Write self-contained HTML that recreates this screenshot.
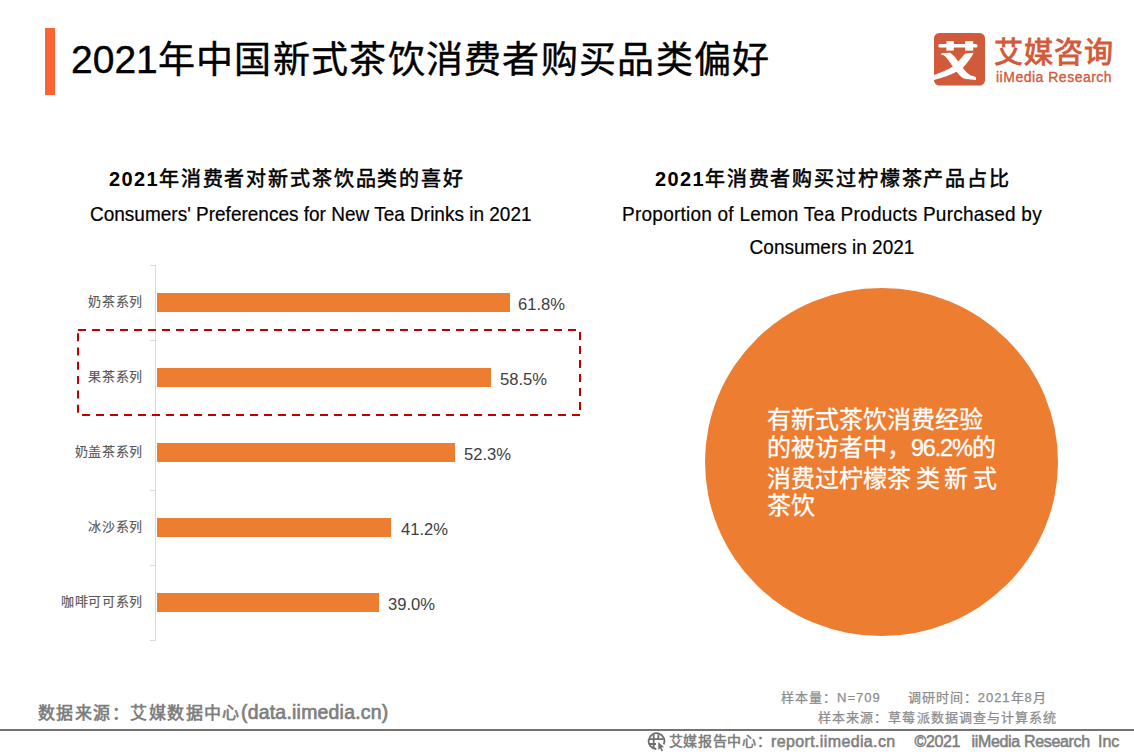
<!DOCTYPE html>
<html lang="zh-CN"><head><meta charset="utf-8">
<style>
html,body{margin:0;padding:0;background:#fff;}
body{width:1134px;height:756px;position:relative;overflow:hidden;font-family:"Liberation Sans",sans-serif;color:#000;}
.a{position:absolute;white-space:nowrap;}
#bar{left:45px;top:28px;width:10px;height:67px;background:#fa6432;}
#title{left:71px;top:37px;font-size:37px;line-height:46px;letter-spacing:1.3px;color:#000;-webkit-text-stroke:0.4px #000;}
#title .d{letter-spacing:0;font-size:39px;}
#logo{left:934px;top:33px;width:51px;height:52.5px;}
#lg1{left:993.5px;top:36px;font-size:29px;line-height:34px;letter-spacing:1.1px;color:#d15a3b;-webkit-text-stroke:0.9px #d15a3b;}
#lg2{left:996px;top:69px;font-size:14px;letter-spacing:0.5px;-webkit-text-stroke:0.35px #d15a3b;line-height:16px;color:#d15a3b;}
.st{font-size:20px;line-height:24px;letter-spacing:1.85px;-webkit-text-stroke:0.55px #000;}
.st b{-webkit-text-stroke:0;letter-spacing:1.35px;}
.se{font-size:19px;line-height:24px;-webkit-text-stroke:0.2px #000;transform:scaleY(1.1);transform-origin:0 5px;}
.bar{position:absolute;left:157px;height:19px;background:#ed7d31;}
.lab{position:absolute;left:0;width:142.8px;font-size:13px;line-height:16px;letter-spacing:0.6px;margin-top:1px;color:#595959;-webkit-text-stroke:0.15px #595959;text-align:right;}
.val{position:absolute;font-size:16.6px;line-height:20px;margin-top:2px;margin-left:1px;color:#404040;}
#axis{left:155px;top:265px;width:1px;height:376px;background:#d9d9d9;}
.tick{position:absolute;left:150px;width:5px;height:1px;background:#d9d9d9;}
#box{left:77px;top:329px;width:504px;height:87px;}
#circle{left:705px;top:288px;width:352.5px;height:348px;border-radius:50%;background:#ed7d31;}
.ct{left:767px;font-size:24px;line-height:28px;color:#fff;-webkit-text-stroke:0.3px #fff;}
#src{left:38px;top:700px;font-size:17px;line-height:24px;letter-spacing:1.45px;color:#7f7f7f;font-weight:bold;}
#hline{left:0;top:729px;width:1134px;height:2px;background:#737373;}
.ft{font-size:13px;line-height:16px;letter-spacing:1px;color:#8c8c8c;-webkit-text-stroke:0.25px #8c8c8c;}
#globe{left:646px;top:731.5px;width:20px;height:20px;}
#ft3{left:668.5px;top:731px;font-size:14px;line-height:20px;letter-spacing:0.7px;color:#7f7f7f;font-weight:bold;}
.ft3l{top:732px;font-size:16px;line-height:20px;color:#7f7f7f;-webkit-text-stroke:0.55px #7f7f7f;}
</style></head>
<body>
<div id="bar" class="a"></div>
<div id="title" class="a"><span class="d">2021</span>年中国新式茶饮消费者购买品类偏好</div>

<svg id="logo" class="a" viewBox="0 0 51 52.5">
  <rect x="0" y="0" width="51" height="52.5" rx="5.3" fill="#d15a3b"/>
  <rect x="4.3" y="11.1" width="39.2" height="3.5" rx="1.6" fill="#fff"/>
  <rect x="12.4" y="8.1" width="7.4" height="9.5" fill="#fff"/>
  <rect x="31.1" y="8.1" width="8.1" height="9.5" fill="#fff"/>
  <path d="M6.8 20.9 Q7.8 19.9 9.2 19.9 L16 19.8 Q18.5 21.2 20.5 23.5 L24.3 28.4 L28.8 34.8 Q31 38 33.3 40.1 Q36 42.6 38.6 43.1 L42 44 L42 46.9 L31.8 46.1 Q29.3 45.4 27.3 43.9 Q25 41.8 22.8 39 L17.5 31.8 Q14.5 27 11.5 23.5 Q9.5 21.9 6.8 21.6 Z" fill="#fff"/>
  <path d="M39.7 19.8 Q38 23.5 35.6 26.5 Q32.5 31 28.8 34.8 Q25.5 37.5 22 39 Q17.5 41.3 13 43.1 Q6.5 45.5 0 46.9 L0 42 Q4.5 40.6 9.2 38.6 Q14 36.5 18.2 34.1 Q21.5 31.5 24.3 28.4 L31.1 20.5 Z" fill="#fff"/>
</svg>
<div id="lg1" class="a">艾媒咨询</div>
<div id="lg2" class="a">iiMedia Research</div>

<div class="a st" style="left:109px;top:167px;"><b>2021</b>年消费者对新式茶饮品类的喜好</div>
<div class="a se" style="left:90px;top:202px;">Consumers' Preferences for New Tea Drinks in 2021</div>

<div class="a st" style="left:655px;top:167px;"><b>2021</b>年消费者购买过柠檬茶产品占比</div>
<div class="a se" style="left:532px;width:600px;text-align:center;top:202px;letter-spacing:0.23px;">Proportion of Lemon Tea Products Purchased by</div>
<div class="a se" style="left:532px;width:600px;text-align:center;top:235px;">Consumers in 2021</div>

<div id="axis" class="a"></div>
<div class="tick" style="top:265px"></div>
<div class="tick" style="top:340px"></div>
<div class="tick" style="top:415px"></div>
<div class="tick" style="top:490px"></div>
<div class="tick" style="top:565px"></div>
<div class="tick" style="top:640px"></div>

<div class="bar" style="top:293px;width:353px"></div>
<div class="bar" style="top:368px;width:334px"></div>
<div class="bar" style="top:443px;width:298px"></div>
<div class="bar" style="top:518px;width:234px"></div>
<div class="bar" style="top:593px;width:222px"></div>

<div class="lab" style="top:293px">奶茶系列</div>
<div class="lab" style="top:368px">果茶系列</div>
<div class="lab" style="top:443px">奶盖茶系列</div>
<div class="lab" style="top:518px">冰沙系列</div>
<div class="lab" style="top:593px">咖啡可可系列</div>

<div class="val" style="left:517px;top:293px">61.8%</div>
<div class="val" style="left:499px;top:368px">58.5%</div>
<div class="val" style="left:463px;top:443px">52.3%</div>
<div class="val" style="left:400px;top:518px">41.2%</div>
<div class="val" style="left:387px;top:593px">39.0%</div>

<svg id="box" class="a" viewBox="0 0 504 87">
  <g stroke="#c00000" stroke-width="2" fill="none">
    <line x1="1" y1="1" x2="503" y2="1" stroke-dasharray="8 6"/>
    <line x1="1" y1="86" x2="503" y2="86" stroke-dasharray="8 6" stroke-dashoffset="-4"/>
    <line x1="1" y1="4.2" x2="1" y2="86" stroke-dasharray="8 6.3"/>
    <line x1="503" y1="3" x2="503" y2="86" stroke-dasharray="8 6"/>
  </g>
</svg>

<div id="circle" class="a"></div>
<div class="a ct" style="top:406px">有新式茶饮消费经验</div>
<div class="a ct" style="top:434px">的被访者中，<span style="font-size:23.5px;letter-spacing:-1.2px">96.2%</span>的</div>
<div class="a ct" style="top:465px">消费过柠檬茶<span style="display:inline-block;width:4.6px"></span>类<span style="display:inline-block;width:4.6px"></span>新<span style="display:inline-block;width:4.6px"></span>式</div>
<div class="a ct" style="top:492px">茶饮</div>

<div id="src" class="a">数据来源：艾媒数据中心<span style="font-size:19.4px;letter-spacing:0.25px;font-weight:normal;-webkit-text-stroke:0.7px #7f7f7f">(data.iimedia.cn)</span></div>
<div class="a ft" style="left:781px;top:690px;">样本量：N=709<span style="display:inline-block;width:27px"></span>调研时间：2021年8月</div>
<div class="a ft" style="left:818px;top:710px;letter-spacing:1.08px">样本来源：草莓派数据调查与计算系统</div>
<div id="hline" class="a"></div>
<svg id="globe" class="a" viewBox="0 0 20 20">
  <g fill="none" stroke="#6d6d6d" stroke-width="1.8">
    <path d="M10.3 17 A7.9 7.9 0 1 1 17.7 12.4"/>
    <path d="M3.5 7.2 H17.2 M3 12 H10 M7.7 2.5 V16.5 M12.3 2.5 V7.2"/>
  </g>
  <path d="M12.3 10 L18 15.3 L15.4 15.6 L17 18.8 L15.6 19.4 L14.1 16.3 L12.3 18 Z" fill="#6d6d6d" stroke="#fff" stroke-width="1.2" paint-order="stroke"/>
</svg>
<div id="ft3" class="a">艾媒报告中心：</div>
<div class="a ft3l" style="left:771px;letter-spacing:0.37px">report.iimedia.cn</div>
<div class="a ft3l" style="left:914.5px;letter-spacing:-0.4px">©2021</div>
<div class="a ft3l" style="left:971.5px;letter-spacing:-0.33px">iiMedia Research</div>
<div class="a ft3l" style="left:1098px;letter-spacing:0px">Inc</div>
</body></html>
